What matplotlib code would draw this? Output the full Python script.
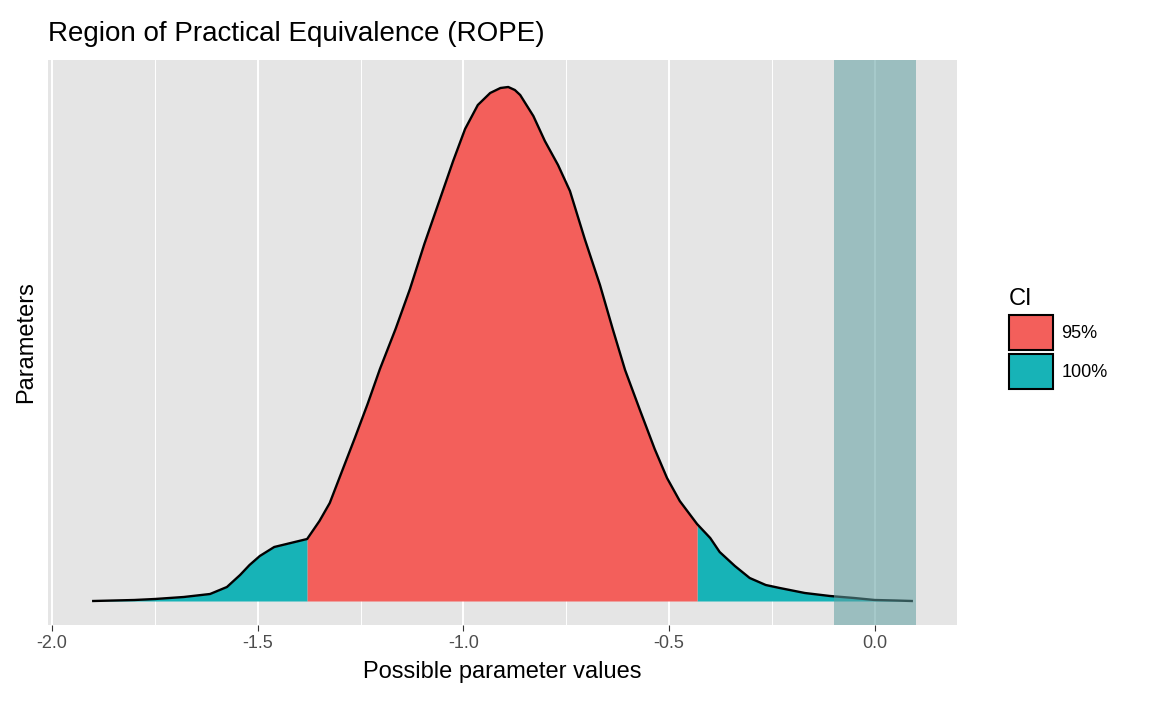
import numpy as np
import matplotlib
matplotlib.use("Agg")
import matplotlib.pyplot as plt
from matplotlib.patches import Patch

plt.rcParams["font.family"] = ["Liberation Sans", "DejaVu Sans"]

# density curve (x value, relative height)
dens_x = [-1.90, -1.80, -1.75, -1.68, -1.616, -1.575, -1.543, -1.52, -1.495, -1.46, -1.42, -1.38,
          -1.35, -1.325, -1.295, -1.264, -1.233, -1.203, -1.165, -1.13, -1.095, -1.057, -1.025,
          -0.996, -0.965, -0.935, -0.91, -0.891, -0.875, -0.862, -0.83, -0.802, -0.77, -0.741,
          -0.705, -0.668, -0.637, -0.607, -0.57, -0.535, -0.505, -0.474, -0.432, -0.40, -0.377,
          -0.34, -0.304, -0.265, -0.231, -0.17, -0.109, -0.05, 0.0, 0.05, 0.09]
dens_y = [0, 1, 2, 4, 7, 14, 26, 36, 45, 54, 58, 62,
          80, 98, 130, 163, 197, 232, 272, 312, 357, 402, 440,
          472, 496, 508, 513, 514, 511, 506, 485, 460, 436, 410,
          362, 316, 272, 231, 190, 152, 123, 100, 77, 63, 49,
          35, 23, 16, 13, 8, 5, 3, 1, 0.5, 0]
ci_low, ci_high = -1.38, -0.432
rope = (-0.1, 0.1)

red, teal = "#F35F5B", "#17B3B7"
x = np.array(dens_x)
y = np.array(dens_y)

fig = plt.figure(figsize=(11.52, 7.11), dpi=100)
ax = fig.add_axes([48/1152, 86/711, 909/1152, 565/711])
ax.set_facecolor("#E5E5E5")

ax.fill_between(x, 0, y, where=(x <= ci_low + 1e-9), color=teal, lw=0)
ax.fill_between(x, 0, y, where=(x >= ci_high - 1e-9), color=teal, lw=0)
ax.fill_between(x, 0, y, where=(x >= ci_low - 1e-9) & (x <= ci_high + 1e-9), color=red, lw=0)
ax.plot(x, y, color="black", lw=1.7, zorder=4, solid_joinstyle="round")
ax.axvspan(*rope, color="#5F9EA0", alpha=0.55, lw=0, zorder=5)

ax.set_xlim(-2.01, 0.2)
ax.set_ylim(-24, 541)
ax.set_xticks([-2.0, -1.5, -1.0, -0.5, 0.0])
ax.set_xticklabels(["-2.0", "-1.5", "-1.0", "-0.5", "0.0"])
ax.set_xticks([-1.75, -1.25, -0.75, -0.25], minor=True)
ax.set_yticks([])
ax.grid(which="major", axis="x", color="white", lw=1.4, zorder=0)
ax.grid(which="minor", axis="x", color="white", lw=0.7, zorder=0)
ax.set_axisbelow(True)
for s in ax.spines.values():
    s.set_visible(False)
ax.tick_params(axis="x", which="major", length=4, color="#333333", labelsize=13, labelcolor="#4D4D4D")
ax.tick_params(axis="x", which="minor", length=0)
ax.set_xlabel("Possible parameter values", fontsize=17, labelpad=6)
ax.set_ylabel("Parameters", fontsize=17, labelpad=8)
ax.set_title("Region of Practical Equivalence (ROPE)", fontsize=20, loc="left", x=0.0, pad=14)

handles = [Patch(facecolor=red, edgecolor="black", lw=1.5, label="95%"),
           Patch(facecolor=teal, edgecolor="black", lw=1.5, label="100%")]
fig.legend(handles=handles, title="CI", loc="upper left", bbox_to_anchor=(993/1152, 1 - 272/711),
           frameon=False, fontsize=13, title_fontsize=17, handlelength=2.4, handleheight=2.6,
           labelspacing=0.25, handletextpad=0.5, alignment="left")

fig.savefig("out.png", dpi=100)
